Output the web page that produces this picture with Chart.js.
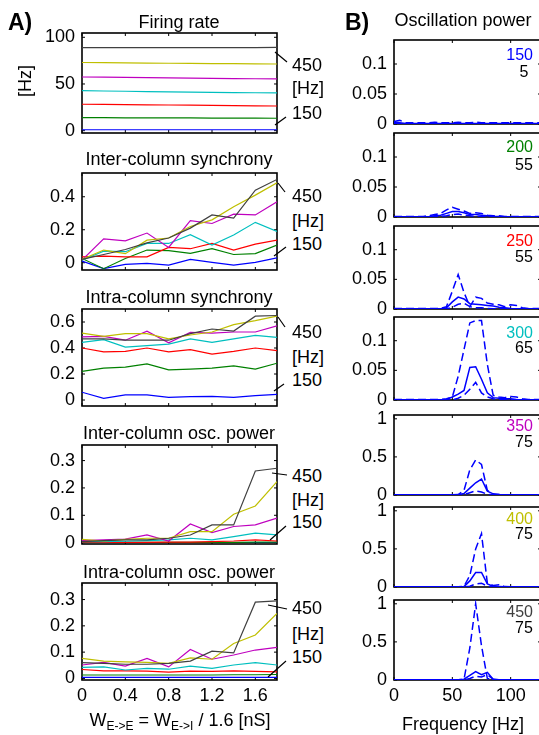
<!DOCTYPE html>
<html><head><meta charset="utf-8">
<script src="https://cdn.jsdelivr.net/npm/chart.js@4.4.0/dist/chart.umd.min.js"></script>
<style>
html,body{margin:0;padding:0;background:#fff;}
body{width:539px;height:735px;overflow:hidden;position:relative;font-family:"Liberation Sans",Arial,Helvetica,sans-serif;color:#000;}
canvas{position:absolute;}
.t{position:absolute;white-space:nowrap;font-size:18px;line-height:22px;height:22px;}
sub{font-size:12px;vertical-align:-4px;line-height:0;}
svg{position:absolute;left:0;top:0;}
</style></head><body>
<script>
// ---------------- DATA ----------------
const weights = [0, 0.2, 0.4, 0.6, 0.8, 1.0, 1.2, 1.4, 1.6, 1.8];
const weightTicks = [0, 0.4, 0.8, 1.2, 1.6];
const inputRates = ['150', '200', '250', '300', '350', '400', '450'];
const peakFreqs = ['5', '55', '55', '65', '75', '75', '75'];

// series order: 150, 200, 250, 300, 350, 400, 450 Hz
const firingRate = [
  [1, 1, 1, 1, 1, 1, 1, 1, 1, 1],
  [13.9, 13.9, 13.8, 13.8, 13.7, 13.6, 13.5, 13.5, 13.4, 13.3],
  [28.3, 28.1, 27.9, 27.7, 27.5, 27.3, 27.1, 26.9, 26.6, 26.4],
  [42.8, 42.5, 42.2, 41.9, 41.6, 41.3, 41.0, 40.8, 40.6, 40.4],
  [57.5, 57.3, 57.0, 56.8, 56.5, 56.3, 56.0, 55.8, 55.6, 55.4],
  [73.0, 72.8, 72.6, 72.4, 72.2, 72.0, 71.8, 71.7, 71.5, 71.4],
  [88.9, 88.9, 88.9, 88.9, 88.9, 88.9, 88.9, 88.9, 89.0, 89.1]
];
const interSync = [
  [0.01, -0.036, -0.01, -0.004, -0.014, 0.02, 0.002, -0.014, 0.002, 0.03],
  [0.026, -0.036, 0.026, 0.077, 0.073, 0.057, 0.085, 0.05, 0.055, 0.107],
  [0.036, 0.04, 0.036, 0.036, 0.093, 0.085, 0.117, 0.077, 0.113, 0.137],
  [0.016, 0.07, 0.067, 0.117, 0.117, 0.17, 0.107, 0.168, 0.245, 0.19],
  [0.016, 0.145, 0.133, 0.18, 0.093, 0.255, 0.238, 0.295, 0.29, 0.37],
  [0.02, 0.077, 0.055, 0.137, 0.15, 0.22, 0.26, 0.34, 0.41, 0.485],
  [0.02, 0.05, 0.08, 0.12, 0.15, 0.21, 0.29, 0.27, 0.44, 0.505]
];
const intraSync = [
  [0.06, 0.013, 0.039, 0.039, 0.02, 0.026, 0.028, 0.02, 0.034, 0.044],
  [0.22, 0.245, 0.253, 0.278, 0.232, 0.237, 0.245, 0.263, 0.237, 0.283],
  [0.40, 0.37, 0.374, 0.40, 0.37, 0.387, 0.353, 0.374, 0.40, 0.38],
  [0.443, 0.464, 0.407, 0.418, 0.43, 0.47, 0.443, 0.47, 0.497, 0.482],
  [0.485, 0.49, 0.46, 0.53, 0.44, 0.52, 0.515, 0.523, 0.523, 0.57],
  [0.515, 0.49, 0.51, 0.51, 0.47, 0.50, 0.523, 0.58, 0.61, 0.645],
  [0.47, 0.47, 0.46, 0.46, 0.46, 0.51, 0.546, 0.53, 0.645, 0.65]
];
const interPower = [
  [0.0005, 0.0005, 0.0005, 0.0005, 0.0005, 0.0005, 0.0005, 0.0005, 0.0005, 0.0005],
  [0.001, 0.001, 0.001, 0.001, 0.001, 0.001, 0.001, 0.001, 0.002, 0.002],
  [0.002, 0.001, 0.001, 0.001, 0.002, 0.002, 0.004, 0.006, 0.01, 0.006],
  [0.004, 0.004, 0.005, 0.007, 0.01, 0.016, 0.01, 0.022, 0.035, 0.028],
  [0.007, 0.01, 0.013, 0.028, 0.006, 0.068, 0.037, 0.059, 0.065, 0.09],
  [0.012, 0.006, 0.012, 0.016, 0.016, 0.04, 0.04, 0.104, 0.134, 0.223],
  [0.004, 0.007, 0.01, 0.01, 0.016, 0.028, 0.065, 0.065, 0.262, 0.272]
];
const intraPower = [
  [0.004, 0.004, 0.004, 0.004, 0.004, 0.004, 0.004, 0.004, 0.004, 0.004],
  [0.013, 0.013, 0.013, 0.013, 0.013, 0.013, 0.013, 0.014, 0.014, 0.015],
  [0.034, 0.029, 0.029, 0.028, 0.024, 0.028, 0.027, 0.029, 0.027, 0.025],
  [0.042, 0.044, 0.032, 0.038, 0.035, 0.047, 0.038, 0.051, 0.06, 0.051],
  [0.051, 0.061, 0.047, 0.076, 0.044, 0.11, 0.073, 0.089, 0.108, 0.118],
  [0.076, 0.066, 0.063, 0.061, 0.057, 0.078, 0.073, 0.133, 0.165, 0.247],
  [0.06, 0.057, 0.054, 0.054, 0.057, 0.066, 0.104, 0.097, 0.29, 0.295]
];

const freqs = [0, 5, 10, 15, 20, 25, 30, 35, 40, 45, 50, 55, 60, 65, 70, 75, 80, 85, 90, 95, 100, 105, 110, 115, 120, 125];
const freqTicks = [0, 50, 100];
const oscMean = [
  [.002,.002,.001,.001,.001,.001,.001,.001,.001,.001,.001,.001,.001,.001,.001,.001,.001,.001,.001,.001,.001,.001,.001,.001,.001,.001],
  [.0005,.0005,.0005,.0005,.0005,.0005,.001,.002,.003,.006,.009,.009,.007,.004,.004,.003,.002,.001,.001,.0005,.0005,.0005,.0005,.0005,.0005,.0005],
  [.0005,.0005,.0005,.0005,.0005,.0005,.0005,.0005,.0005,.002,.012,.02,.017,.009,.008,.007,.006,.005,.003,.002,.001,.0005,.0005,.0005,.0005,.0005],
  [.0005,.0005,.0005,.0005,.0005,.0005,.0005,.0005,.0005,.001,.005,.01,.016,.055,.056,.035,.012,.004,.003,.002,.002,.001,.0005,.0005,.0005,.0005],
  [.003,.003,.003,.003,.003,.003,.003,.003,.003,.003,.003,.005,.02,.09,.16,.21,.05,.015,.006,.003,.003,.003,.003,.003,.003,.003],
  [.003,.003,.003,.003,.003,.003,.003,.003,.003,.003,.003,.003,.005,.08,.19,.19,.04,.01,.008,.003,.003,.003,.003,.003,.003,.003],
  [.003,.003,.003,.003,.003,.003,.003,.003,.003,.003,.003,.003,.01,.06,.11,.07,.1,.01,.003,.003,.003,.003,.003,.003,.003,.003]
];
const oscUpper = [
  [.004,.006,.002,.002,.002,.002,.002,.003,.002,.002,.002,.003,.002,.002,.003,.002,.002,.002,.002,.002,.002,.002,.002,.002,.002,.002],
  [.001,.001,.001,.001,.001,.001,.002,.004,.006,.012,.016,.013,.01,.006,.007,.006,.003,.002,.002,.001,.001,.001,.001,.001,.001,.001],
  [.001,.001,.001,.001,.001,.001,.001,.001,.001,.004,.03,.058,.028,.004,.02,.018,.01,.008,.007,.004,.007,.006,.002,.001,.001,.001],
  [.001,.001,.001,.001,.001,.001,.001,.001,.001,.002,.005,.04,.085,.13,.134,.134,.06,.008,.005,.004,.006,.005,.002,.001,.001,.001],
  [.004,.004,.004,.004,.004,.004,.004,.004,.004,.004,.004,.005,.06,.33,.46,.4,.06,.01,.006,.004,.004,.004,.004,.004,.004,.004],
  [.004,.004,.004,.004,.004,.004,.004,.004,.004,.004,.004,.004,.01,.15,.5,.7,.05,.02,.03,.005,.004,.004,.004,.004,.004,.004],
  [.004,.004,.004,.004,.004,.004,.004,.004,.004,.004,.004,.004,.01,.42,1.0,.45,.02,.005,.004,.004,.004,.004,.004,.004,.004,.004]
];
const oscLower = [
  [.001,.001,0,0,0,0,0,0,0,0,0,0,0,0,0,0,0,0,0,0,0,0,0,0,0,0],
  [0,0,0,0,0,0,0,.001,.001,.002,.004,.005,.003,.002,.001,.001,.0005,0,0,0,0,0,0,0,0,0],
  [0,0,0,0,0,0,0,0,0,0,.003,.008,.01,.004,.002,.002,.001,.0005,.0005,.0005,.0005,.0005,.0005,.0005,.0005,.0005],
  [0,0,0,0,0,0,0,0,0,0,0,.003,.008,.018,.03,.012,.005,.002,.0005,.0005,.0005,.0005,.0005,.0005,.0005,.0005],
  [.001,.001,.001,.001,.001,.001,.001,.001,.001,.001,.001,.001,.005,.03,.055,.04,.01,.001,.001,.001,.001,.001,.001,.001,.001,.001],
  [.001,.001,.001,.001,.001,.001,.001,.001,.001,.001,.001,.001,.001,.01,.04,.05,.01,.001,.001,.001,.001,.001,.001,.001,.001,.001],
  [.001,.001,.001,.001,.001,.001,.001,.001,.001,.001,.001,.001,.001,.02,.05,.04,.07,.01,.001,.001,.001,.001,.001,.001,.001,.001]
];

// ---------------- STYLE / LAYOUT ----------------
const rateColors = ['#0000ff', '#008000', '#ff0000', '#00bfbf', '#bf00bf', '#bfbf00', '#404040'];
const FONT = '"Liberation Sans", Arial, Helvetica, sans-serif';
Chart.defaults.font.family = FONT;
Chart.defaults.font.size = 18;
Chart.defaults.color = '#000';

function txt(html, x, y, align, extra) {
  const d = document.createElement('div');
  d.className = 't';
  d.innerHTML = html;
  d.style.top = (y - 11) + 'px';
  if (align === 'c') { d.style.left = x + 'px'; d.style.transform = 'translateX(-50%)'; }
  else if (align === 'r') { d.style.right = (539 - x) + 'px'; }
  else { d.style.left = x + 'px'; }
  if (extra) Object.assign(d.style, extra);
  document.body.appendChild(d);
  return d;
}

const framePlugin = {
  id: 'frame',
  beforeDatasetsDraw(chart) {
    const {ctx, chartArea: a, scales: {x, y}} = chart;
    ctx.save();
    ctx.strokeStyle = '#000';
    ctx.lineWidth = 1.6;
    ctx.strokeRect(a.left, a.top, a.right - a.left, a.bottom - a.top);
    ctx.lineWidth = 1;
    const tl = 3;
    const ln = (x1, y1, x2, y2) => { ctx.beginPath(); ctx.moveTo(x1, y1); ctx.lineTo(x2, y2); ctx.stroke(); };
    x.ticks.forEach(t => { const p = x.getPixelForValue(t.value); ln(p, a.top, p, a.top + tl); ln(p, a.bottom, p, a.bottom - tl); });
    y.ticks.forEach(t => { const p = y.getPixelForValue(t.value); ln(a.left, p, a.left + tl, p); ln(a.right, p, a.right - tl, p); });
    ctx.restore();
  }
};

function panel(s) {
  const PT = 14, PB = 14;
  const xH = s.showX ? 30 : 0;
  const cv = document.createElement('canvas');
  const W = s.plotRight + s.padR - s.canvasLeft;
  const H = PT + (s.boxBottom - s.boxTop) + xH + PB;
  cv.width = W; cv.height = H;
  cv.style.left = s.canvasLeft + 'px';
  cv.style.top = (s.boxTop - PT) + 'px';
  cv.style.width = W + 'px'; cv.style.height = H + 'px';
  document.body.appendChild(cv);
  const yw = s.plotLeft - s.canvasLeft;
  new Chart(cv, {
    type: 'line',
    data: { datasets: s.datasets },
    options: {
      responsive: false, animation: false, devicePixelRatio: 1, events: [],
      layout: { padding: { top: PT, bottom: PB, left: 0, right: s.padR } },
      plugins: { legend: { display: false }, tooltip: { enabled: false } },
      elements: { point: { radius: 0 }, line: { tension: 0 } },
      scales: {
        x: {
          type: 'linear', min: s.xMin, max: s.xMax,
          grid: { display: false, drawTicks: false }, border: { display: false },
          ticks: { display: !!s.showX, padding: 5, autoSkip: false, maxRotation: 0, callback: v => String(v) },
          afterBuildTicks: sc => { sc.ticks = s.xTicks.map(v => ({ value: v })); },
          afterFit: sc => { sc.height = xH; sc.paddingLeft = 0; sc.paddingRight = 0; sc.paddingTop = 0; sc.paddingBottom = 0; }
        },
        y: {
          type: 'linear', min: s.yMin, max: s.yMax,
          grid: { display: false, drawTicks: false }, border: { display: false },
          ticks: { padding: 7, autoSkip: false, callback: v => String(v) },
          afterBuildTicks: sc => { sc.ticks = s.yTicks.map(v => ({ value: v })); },
          afterFit: sc => { sc.width = yw; sc.paddingLeft = 0; sc.paddingRight = 0; sc.paddingTop = 0; sc.paddingBottom = 0; }
        }
      }
    },
    plugins: [framePlugin]
  });
}

function leftSets(values) {
  const sets = [];
  for (let i = values.length - 1; i >= 0; i--) {
    sets.push({ data: weights.map((w, k) => ({ x: w, y: values[i][k] })), borderColor: rateColors[i], borderWidth: 1.2 });
  }
  return sets;
}
function rightSets(i) {
  const mk = (arr, dash) => ({ data: freqs.map((f, k) => ({ x: f, y: arr[i][k] })), borderColor: '#0000ff', borderWidth: 1.5, borderDash: dash });
  return [mk(oscMean, []), mk(oscUpper, [8, 4]), mk(oscLower, [8, 4])];
}

// ----- Left column (A) -----
const leftPanels = [
  { title: 'Firing rate', vals: firingRate, top: 33, bottom: 133, yMin: -2.5, yMax: 104.6, yTicks: [0, 50, 100], titleY: 22, ann: [65, 88, 113] },
  { title: 'Inter-column synchrony', vals: interSync, top: 173, bottom: 270, yMin: -0.044, yMax: 0.544, yTicks: [0, 0.2, 0.4], titleY: 159, ann: [196, 221, 244] },
  { title: 'Intra-column synchrony', vals: intraSync, top: 309, bottom: 406, yMin: -0.046, yMax: 0.70, yTicks: [0, 0.2, 0.4, 0.6], titleY: 297, ann: [332, 357, 380] },
  { title: 'Inter-column osc. power', vals: interPower, top: 445, bottom: 544, yMin: -0.005, yMax: 0.357, yTicks: [0, 0.1, 0.2, 0.3], titleY: 433, ann: [476, 500, 522] },
  { title: 'Intra-column osc. power', vals: intraPower, top: 583, bottom: 680, yMin: -0.006, yMax: 0.363, yTicks: [0, 0.1, 0.2, 0.3], titleY: 572, ann: [608, 634, 657], showX: true }
];
leftPanels.forEach(p => {
  panel({ canvasLeft: 0, plotLeft: 82, plotRight: 277, padR: 3, boxTop: p.top, boxBottom: p.bottom,
          xMin: 0, xMax: 1.8, xTicks: weightTicks, yMin: p.yMin, yMax: p.yMax, yTicks: p.yTicks,
          showX: p.showX, datasets: leftSets(p.vals) });
  txt(p.title, 179, p.titleY, 'c');
  txt('450', 292, p.ann[0], 'l');
  txt('[Hz]', 292, p.ann[1], 'l');
  txt('150', 292, p.ann[2], 'l');
});

// ----- Right column (B) -----
const rightPanels = [
  { top: 40, bottom: 124, yMax: 0.14, yTicks: [0, 0.05, 0.1], lab: [55, 72] },
  { top: 133, bottom: 217, yMax: 0.14, yTicks: [0, 0.05, 0.1], lab: [147, 165] },
  { top: 226, bottom: 309, yMax: 0.14, yTicks: [0, 0.05, 0.1], lab: [241, 257] },
  { top: 317, bottom: 400, yMax: 0.14, yTicks: [0, 0.05, 0.1], lab: [333, 348] },
  { top: 415, bottom: 495, yMax: 1.05, yTicks: [0, 0.5, 1], lab: [426, 442] },
  { top: 507, bottom: 587, yMax: 1.05, yTicks: [0, 0.5, 1], lab: [519, 534] },
  { top: 600, bottom: 680, yMax: 1.05, yTicks: [0, 0.5, 1], lab: [612, 628], showX: true }
];
rightPanels.forEach((p, i) => {
  panel({ canvasLeft: 340, plotLeft: 394, plotRight: 541, padR: 3, boxTop: p.top, boxBottom: p.bottom,
          xMin: 0, xMax: 126, xTicks: freqTicks, yMin: 0, yMax: p.yMax, yTicks: p.yTicks,
          showX: p.showX, datasets: rightSets(i) });
  txt(inputRates[i], 533, p.lab[0], 'r', { fontSize: '16px', color: rateColors[i] });
  txt(peakFreqs[i], 524, p.lab[1], 'c', { fontSize: '16px' });
});

// ----- Texts -----
txt('A)', 8, 22, 'l', { fontSize: '23px', fontWeight: 'bold' });
txt('B)', 345, 22, 'l', { fontSize: '23px', fontWeight: 'bold' });
txt('Oscillation power', 463, 20, 'c');
txt('[Hz]', 25, 81, 'c', { transform: 'translateX(-50%) rotate(-90deg)' });
txt('W<sub>E-&gt;E</sub> = W<sub>E-&gt;I</sub> / 1.6 [nS]', 180, 720, 'c');
txt('Frequency [Hz]', 463, 724, 'c');

// ----- leader lines for the 450 / 150 annotations -----
const leaders = [
  [275,52,287,62],[275,125,286,117],
  [278,183,285,192],[274,256,286,247],
  [278,317,285,327],[274,391,284,384],
  [272,473,287,475],[270,540,286,526],
  [268,605,287,609],[268,677,286,661]
];
const ns = 'http://www.w3.org/2000/svg';
const svg = document.createElementNS(ns, 'svg');
svg.setAttribute('width', 539); svg.setAttribute('height', 735);
leaders.forEach(l => {
  const e = document.createElementNS(ns, 'line');
  e.setAttribute('x1', l[0]); e.setAttribute('y1', l[1]); e.setAttribute('x2', l[2]); e.setAttribute('y2', l[3]);
  e.setAttribute('stroke', '#000'); e.setAttribute('stroke-width', '1.2');
  svg.appendChild(e);
});
document.body.appendChild(svg);
</script>
</body></html>
